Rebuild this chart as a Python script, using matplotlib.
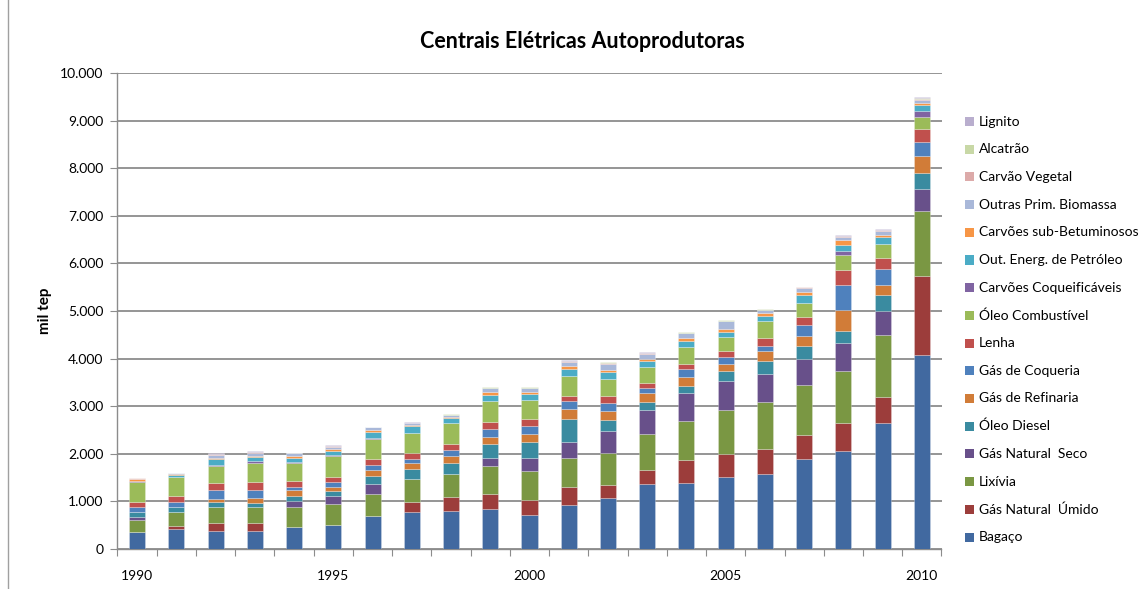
import matplotlib
matplotlib.use("Agg")
import matplotlib.pyplot as plt
from matplotlib.patches import Rectangle
from matplotlib.lines import Line2D
from matplotlib.ticker import FuncFormatter, FixedLocator
import numpy as np

plt.rcParams['font.family'] = ['Lato', 'DejaVu Sans']

years = list(range(1990, 2011))

# Consumo por fonte (mil tep), da base para o topo da pilha
bagaco = [360, 413, 385, 385, 469, 511, 700, 777, 805, 840, 707, 917, 1064, 1358, 1379, 1506, 1576, 1884, 2052, 2654, 4069]
gas_natural_umido = [0, 77, 168, 154, 0, 0, 0, 217, 280, 322, 329, 392, 287, 309, 498, 497, 532, 511, 588, 533, 1673]
lixivia = [250, 287, 336, 336, 406, 434, 462, 483, 483, 581, 609, 602, 659, 749, 812, 924, 987, 1043, 1106, 1302, 1352]
gas_natural_seco = [70, 0, 0, 0, 133, 175, 210, 0, 0, 161, 266, 343, 475, 511, 595, 595, 588, 547, 575, 511, 476]
oleo_diesel = [91, 98, 105, 91, 105, 105, 161, 196, 245, 308, 337, 477, 217, 168, 147, 224, 273, 286, 265, 336, 336]
gas_refinaria = [0, 0, 63, 105, 119, 84, 133, 126, 140, 147, 174, 203, 196, 175, 189, 147, 197, 197, 435, 217, 343]
gas_coqueria = [105, 119, 175, 168, 70, 98, 91, 91, 126, 168, 168, 168, 168, 112, 154, 141, 118, 244, 532, 322, 294]
lenha = [118, 119, 147, 161, 126, 112, 126, 133, 119, 147, 141, 112, 148, 112, 112, 119, 162, 168, 315, 231, 287]
oleo_combustivel = [414, 393, 365, 413, 385, 435, 427, 420, 455, 435, 399, 413, 357, 322, 350, 294, 349, 288, 308, 294, 245]
carvoes_coqueificaveis = [21, 0, 20, 28, 21, 21, 28, 0, 0, 0, 0, 0, 0, 0, 0, 0, 0, 0, 84, 0, 133]
out_energ_petroleo = [0, 42, 127, 84, 84, 77, 119, 140, 105, 126, 133, 161, 147, 140, 140, 118, 119, 168, 120, 147, 119]
carvoes_sub_betuminosos = [36, 34, 27, 21, 28, 49, 42, 20, 20, 63, 42, 49, 49, 42, 49, 49, 57, 56, 118, 42, 42]
outras_prim_biomassa = [14, 15, 57, 77, 64, 48, 57, 40, 36, 77, 70, 91, 119, 98, 105, 168, 63, 98, 63, 98, 63]
carvao_vegetal = [3, 2, 12, 12, 4, 10, 5, 6, 7, 12, 12, 14, 17, 12, 10, 10, 7, 7, 12, 12, 19]
alcatrao = [2, 2, 12, 12, 3, 10, 5, 6, 7, 12, 12, 14, 16, 12, 9, 9, 7, 7, 12, 12, 19]
lignito = [2, 1, 11, 12, 3, 9, 5, 5, 6, 11, 11, 14, 16, 12, 9, 9, 7, 7, 11, 11, 19]

series = [
    ("Bagaço", bagaco, "#4169A0"),
    ("Gás Natural  Úmido", gas_natural_umido, "#9C3D3B"),
    ("Lixívia", lixivia, "#7A9743"),
    ("Gás Natural  Seco", gas_natural_seco, "#68508A"),
    ("Óleo Diesel", oleo_diesel, "#3A8BA0"),
    ("Gás de Refinaria", gas_refinaria, "#D17C38"),
    ("Gás de Coqueria", gas_coqueria, "#4F81BD"),
    ("Lenha", lenha, "#C0504D"),
    ("Óleo Combustível", oleo_combustivel, "#9BBB59"),
    ("Carvões Coqueificáveis", carvoes_coqueificaveis, "#8064A2"),
    ("Out. Energ. de Petróleo", out_energ_petroleo, "#4BACC6"),
    ("Carvões sub-Betuminosos", carvoes_sub_betuminosos, "#F79646"),
    ("Outras Prim. Biomassa", outras_prim_biomassa, "#A9B8D9"),
    ("Carvão Vegetal", carvao_vegetal, "#DCAAA9"),
    ("Alcatrão", alcatrao, "#C8D8A6"),
    ("Lignito", lignito, "#B9AECE"),
]

W, H = 1139, 589
fig = plt.figure(figsize=(W / 100, H / 100), dpi=100)
fig.patch.set_facecolor("white")

ax_l, ax_r, ax_b, ax_t = 117.5, 941.5, 549, 73
ax = fig.add_axes([ax_l / W, (H - ax_b) / H, (ax_r - ax_l) / W, (ax_b - ax_t) / H])

x = np.arange(len(years))
bottom = np.zeros(len(years))
for name, vals, color in series:
    v = np.array(vals, dtype=float)
    ax.bar(x, v, width=0.41, bottom=bottom, color=color, edgecolor=(1, 1, 1, 0.35),
           linewidth=0.5, zorder=3)
    bottom += v

ax.set_xlim(-0.5, len(years) - 0.5)
ax.set_ylim(0, 10000)

grid_c = "#8C8C8C"
ax.yaxis.set_major_locator(FixedLocator(np.arange(0, 10001, 1000)))
ax.yaxis.set_major_formatter(FuncFormatter(lambda v, p: f"{int(v):,}".replace(",", ".")))
ax.grid(axis="y", color=grid_c, linewidth=1.3, zorder=0)
ax.tick_params(axis="y", direction="out", length=5, width=0.8, color=grid_c,
               labelsize=10, pad=5, labelcolor="black")

label_idx = [i for i, y in enumerate(years) if y % 5 == 0]
ax.set_xticks(label_idx)
ax.set_xticklabels([str(years[i]) for i in label_idx])
ax.set_xticks(np.arange(-0.5, len(years)), minor=True)
ax.tick_params(axis="x", which="major", length=0, labelsize=10, pad=15)
ax.tick_params(axis="x", which="minor", direction="out", length=5, width=0.8, color=grid_c)

for s in ("top", "right"):
    ax.spines[s].set_visible(False)
for s in ("left", "bottom"):
    ax.spines[s].set_color(grid_c)
    ax.spines[s].set_linewidth(1.0)

ax.set_ylabel("mil tep", fontsize=11, fontweight="bold", labelpad=6)

fig.text(582 / W, 1 - 42 / H, "Centrais Elétricas Autoprodutoras", ha="center", va="center",
         fontsize=15.5, fontweight="bold")

# legenda à direita, do topo da pilha para a base
row0, step = 121.5, 27.7
for k, (name, vals, color) in enumerate(reversed(series)):
    yc = row0 + k * step
    fig.patches.append(Rectangle((965 / W, 1 - (yc + 4.5) / H), 9 / W, 9 / H,
                                 transform=fig.transFigure, facecolor=color,
                                 edgecolor="none", figure=fig))
    fig.text(979 / W, 1 - yc / H, name, ha="left", va="center", fontsize=10)

# borda esquerda da área do gráfico
fig.add_artist(Line2D([7.5 / W, 7.5 / W], [0, 1], transform=fig.transFigure,
                      color="#A0A0A0", linewidth=1.0))

fig.savefig("out.png", dpi=100)
